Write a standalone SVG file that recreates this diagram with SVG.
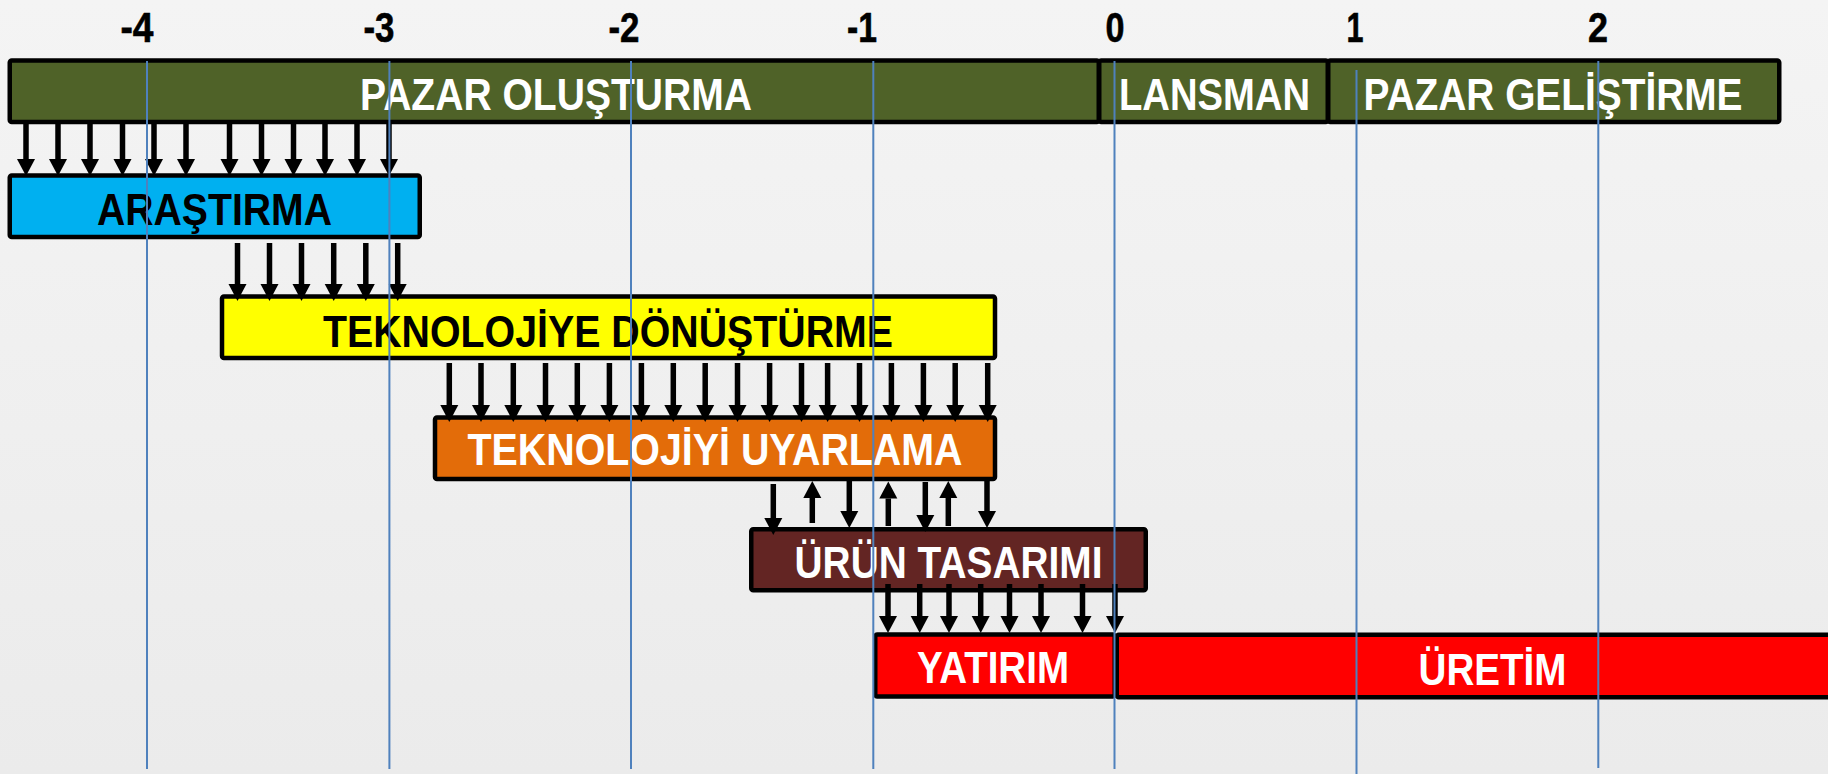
<svg xmlns="http://www.w3.org/2000/svg" width="1828" height="774" viewBox="0 0 1828 774">
  <defs>
    <linearGradient id="bg" x1="0" y1="0" x2="0" y2="1">
      <stop offset="0" stop-color="#f4f4f4"/>
      <stop offset="1" stop-color="#ebebeb"/>
    </linearGradient>
    <marker id="ah" markerUnits="userSpaceOnUse" markerWidth="20" markerHeight="20" viewBox="0 -10 20 20" refX="0" refY="0" orient="auto">
      <path d="M0,-9 L17,0 L0,9 z" fill="#000"/>
    </marker>
    <style>
      .box { stroke: #000; stroke-width: 4.5; }
      .t { font-family: "Liberation Sans Narrow", "Liberation Sans", Arial, sans-serif; font-weight: bold; font-size: 45px; text-anchor: middle; }
      .ax { font-family: "Liberation Sans Narrow", "Liberation Sans", Arial, sans-serif; font-weight: bold; font-size: 43px; text-anchor: middle; fill: #000; stroke: #000; stroke-width: 0.6; }
      .w { fill: #fff; }
      .k { fill: #000; }
      .ar { stroke: #000; stroke-width: 5.5; fill: none; marker-end: url(#ah); }
      .gl { stroke: #4F81BD; stroke-width: 2; }
    </style>
  </defs>
  <rect width="1828" height="774" fill="url(#bg)"/>

  <g id="axis-labels">
    <text class="ax" x="137" y="42" textLength="33" lengthAdjust="spacingAndGlyphs">-4</text>
    <text class="ax" x="379" y="42" textLength="31" lengthAdjust="spacingAndGlyphs">-3</text>
    <text class="ax" x="624" y="42" textLength="31" lengthAdjust="spacingAndGlyphs">-2</text>
    <text class="ax" x="862" y="42" textLength="30" lengthAdjust="spacingAndGlyphs">-1</text>
    <text class="ax" x="1115" y="42" textLength="19" lengthAdjust="spacingAndGlyphs">0</text>
    <text class="ax" x="1355" y="42" textLength="17" lengthAdjust="spacingAndGlyphs">1</text>
    <text class="ax" x="1598" y="42" textLength="20" lengthAdjust="spacingAndGlyphs">2</text>
  </g>

  <g id="pazar-olusturma">
    <rect class="box" x="9.75" y="60.5" width="1089" height="61.5" rx="2" fill="#4F6228"/>
    <text class="t w" x="556" y="110" textLength="392" lengthAdjust="spacingAndGlyphs">PAZAR OLUŞTURMA</text>
  </g>
  <g id="lansman">
    <rect class="box" x="1099.25" y="60.5" width="228.5" height="61.5" rx="2" fill="#4F6228"/>
    <text class="t w" x="1214.5" y="110" textLength="191" lengthAdjust="spacingAndGlyphs">LANSMAN</text>
  </g>
  <g id="pazar-gelistirme">
    <rect class="box" x="1328.25" y="60.5" width="451" height="61.5" rx="2" fill="#4F6228"/>
    <text class="t w" x="1553" y="110" textLength="379" lengthAdjust="spacingAndGlyphs">PAZAR GELİŞTİRME</text>
  </g>

  <g id="arastirma">
    <rect class="box" x="9.75" y="175.5" width="410" height="61.5" rx="2" fill="#00B0F0"/>
    <text class="t k" x="214.5" y="225" textLength="235" lengthAdjust="spacingAndGlyphs">ARAŞTIRMA</text>
  </g>
  <g id="teknolojiye-donusturme">
    <rect class="box" x="222" y="296.5" width="773" height="61.5" rx="2" fill="#FFFF00"/>
    <text class="t k" x="608" y="347" textLength="570" lengthAdjust="spacingAndGlyphs">TEKNOLOJİYE DÖNÜŞTÜRME</text>
  </g>
  <g id="teknolojiyi-uyarlama">
    <rect class="box" x="435" y="417.5" width="560" height="61.5" rx="2" fill="#E36C09"/>
    <text class="t w" x="715" y="465" textLength="495" lengthAdjust="spacingAndGlyphs">TEKNOLOJİYİ UYARLAMA</text>
  </g>
  <g id="urun-tasarimi">
    <rect class="box" x="751.25" y="529.25" width="394.5" height="61" rx="2" fill="#632523"/>
    <text class="t w" x="948.5" y="578" textLength="308" lengthAdjust="spacingAndGlyphs">ÜRÜN TASARIMI</text>
  </g>
  <g id="yatirim">
    <rect class="box" x="875.25" y="634.5" width="239.5" height="62" rx="2" fill="#FF0000"/>
    <text class="t w" x="993" y="683" textLength="152" lengthAdjust="spacingAndGlyphs">YATIRIM</text>
  </g>
  <g id="uretim">
    <rect class="box" x="1116.75" y="634.75" width="780" height="62.5" rx="2" fill="#FF0000"/>
    <text class="t w" x="1492.5" y="685" textLength="148" lengthAdjust="spacingAndGlyphs">ÜRETİM</text>
  </g>

  <g id="connectors">
    <!-- pazar olusturma -> arastirma -->
    <line class="ar" x1="26" y1="123" x2="26" y2="159"/>
    <line class="ar" x1="58" y1="123" x2="58" y2="159"/>
    <line class="ar" x1="90" y1="123" x2="90" y2="159"/>
    <line class="ar" x1="122.5" y1="123" x2="122.5" y2="159"/>
    <line class="ar" x1="154" y1="123" x2="154" y2="159"/>
    <line class="ar" x1="186" y1="123" x2="186" y2="159"/>
    <line class="ar" x1="229.5" y1="123" x2="229.5" y2="159"/>
    <line class="ar" x1="261.5" y1="123" x2="261.5" y2="159"/>
    <line class="ar" x1="293.5" y1="123" x2="293.5" y2="159"/>
    <line class="ar" x1="325" y1="123" x2="325" y2="159"/>
    <line class="ar" x1="357" y1="123" x2="357" y2="159"/>
    <line class="ar" x1="389" y1="123" x2="389" y2="159"/>
    <!-- arastirma -> teknolojiye donusturme -->
    <line class="ar" x1="237.5" y1="243" x2="237.5" y2="284"/>
    <line class="ar" x1="269.5" y1="243" x2="269.5" y2="284"/>
    <line class="ar" x1="301.5" y1="243" x2="301.5" y2="284"/>
    <line class="ar" x1="333.7" y1="243" x2="333.7" y2="284"/>
    <line class="ar" x1="365.8" y1="243" x2="365.8" y2="284"/>
    <line class="ar" x1="397.7" y1="243" x2="397.7" y2="284"/>
    <!-- teknolojiye donusturme -> teknolojiyi uyarlama -->
    <line class="ar" x1="449.3" y1="363" x2="449.3" y2="405"/>
    <line class="ar" x1="481" y1="363" x2="481" y2="405"/>
    <line class="ar" x1="513.3" y1="363" x2="513.3" y2="405"/>
    <line class="ar" x1="545.5" y1="363" x2="545.5" y2="405"/>
    <line class="ar" x1="577.3" y1="363" x2="577.3" y2="405"/>
    <line class="ar" x1="609.4" y1="363" x2="609.4" y2="405"/>
    <line class="ar" x1="641.4" y1="363" x2="641.4" y2="405"/>
    <line class="ar" x1="673.3" y1="363" x2="673.3" y2="405"/>
    <line class="ar" x1="705.2" y1="363" x2="705.2" y2="405"/>
    <line class="ar" x1="737.5" y1="363" x2="737.5" y2="405"/>
    <line class="ar" x1="769.6" y1="363" x2="769.6" y2="405"/>
    <line class="ar" x1="801.5" y1="363" x2="801.5" y2="405"/>
    <line class="ar" x1="827.6" y1="363" x2="827.6" y2="405"/>
    <line class="ar" x1="859.5" y1="363" x2="859.5" y2="405"/>
    <line class="ar" x1="891.4" y1="363" x2="891.4" y2="405"/>
    <line class="ar" x1="923.4" y1="363" x2="923.4" y2="405"/>
    <line class="ar" x1="955.2" y1="363" x2="955.2" y2="405"/>
    <line class="ar" x1="987.7" y1="363" x2="987.7" y2="405"/>
    <!-- teknolojiyi uyarlama <-> urun tasarimi -->
    <line class="ar" x1="773.3" y1="484" x2="773.3" y2="518"/>
    <line class="ar" x1="812.3" y1="523" x2="812.3" y2="498"/>
    <line class="ar" x1="849.3" y1="481" x2="849.3" y2="511"/>
    <line class="ar" x1="888.3" y1="526" x2="888.3" y2="498.5"/>
    <line class="ar" x1="925.3" y1="482" x2="925.3" y2="515"/>
    <line class="ar" x1="948.3" y1="526" x2="948.3" y2="498"/>
    <line class="ar" x1="987" y1="481" x2="987" y2="511"/>
    <!-- urun tasarimi -> yatirim -->
    <line class="ar" x1="888" y1="584" x2="888" y2="616"/>
    <line class="ar" x1="919.7" y1="584" x2="919.7" y2="616"/>
    <line class="ar" x1="949" y1="584" x2="949" y2="616"/>
    <line class="ar" x1="980.7" y1="584" x2="980.7" y2="616"/>
    <line class="ar" x1="1009.5" y1="584" x2="1009.5" y2="616"/>
    <line class="ar" x1="1041" y1="584" x2="1041" y2="616"/>
    <line class="ar" x1="1082.5" y1="584" x2="1082.5" y2="616"/>
    <line class="ar" x1="1115" y1="584" x2="1115" y2="616"/>
  </g>

  <g id="grid-lines">
    <line class="gl" x1="147" y1="61" x2="147" y2="769"/>
    <line class="gl" x1="389.4" y1="61" x2="389.4" y2="769"/>
    <line class="gl" x1="631" y1="61" x2="631" y2="769"/>
    <line class="gl" x1="873.3" y1="61" x2="873.3" y2="769"/>
    <line class="gl" x1="1114.5" y1="61" x2="1114.5" y2="769"/>
    <line class="gl" x1="1356.5" y1="70" x2="1356.5" y2="774"/>
    <line class="gl" x1="1598.3" y1="61" x2="1598.3" y2="768"/>
  </g>
</svg>
